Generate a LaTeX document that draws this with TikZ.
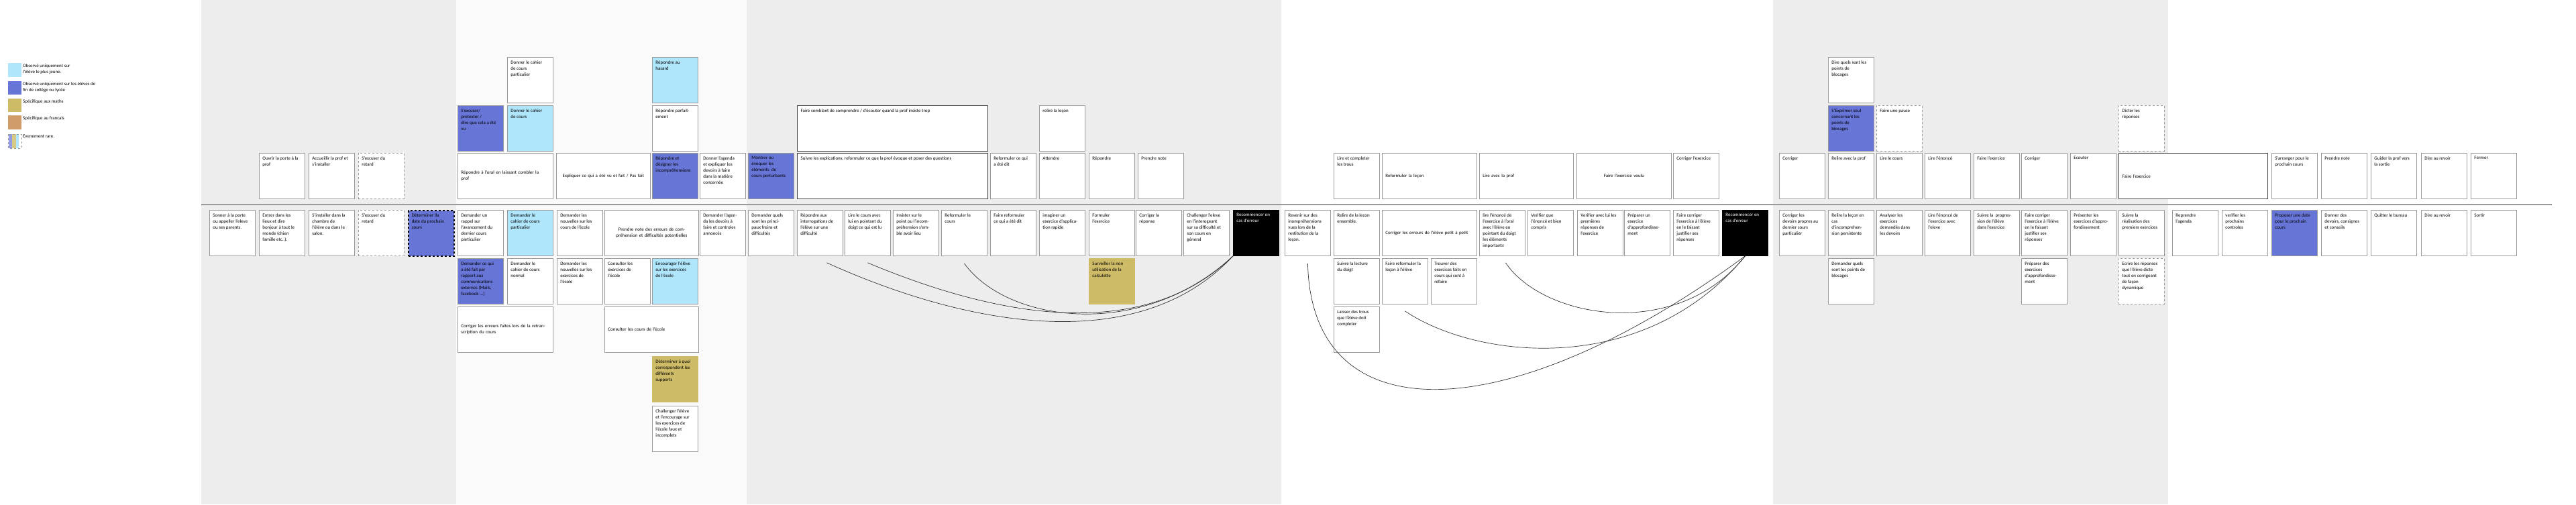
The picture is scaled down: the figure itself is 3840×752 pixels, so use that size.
\documentclass[tikz,border=0pt]{standalone}
\usepackage{fontspec}
\setmainfont{Carlito}
\usepackage{xcolor}
\definecolor{bggray}{HTML}{EDEDED}
\definecolor{bglight}{HTML}{FAFAFA}
\definecolor{edge}{HTML}{9A9A9A}
\definecolor{young}{HTML}{B0E6FB}
\definecolor{older}{HTML}{6775D6}
\definecolor{maths}{HTML}{CDBB68}
\definecolor{french}{HTML}{D09C6A}
\newcommand{\ct}[2][58pt]{\parbox[t][58pt][t]{#1}{\raggedright #2}}

\begin{document}
\begin{tikzpicture}[x=1pt,y=-1pt,
  card/.style={draw=edge, fill=white, anchor=north west, inner sep=5pt, line width=0.8pt, font=\fontsize{7}{9}\selectfont},
  rarecard/.style={card, dashed},
  boldcard/.style={card, draw=black!75, line width=1.3pt},
  wide/.style={card, minimum height=68pt, text width=#1, align=left},
  widec/.style={card, minimum height=68pt, text width=#1, align=center},
  legend/.style={anchor=north west, inner sep=0pt, font=\fontsize{7}{9}\selectfont, align=left},
  link/.style={black!80, line width=0.7pt}]
\useasboundingbox (0,0) rectangle (3840,752);
\fill[bggray] (300,0) rectangle (680,752);
\fill[bglight] (680,0) rectangle (1113,752);
\fill[bggray] (1113,0) rectangle (1910,752);
\fill[bggray] (2643,0) rectangle (3232,752);
\coordinate (sepL) at (300,305);
\coordinate (sepR) at (3804,305);
\draw[edge, line width=1.6pt] (sepL) -- (sepR);

\fill[young] (12,94) rectangle (32,115);
\node[legend] (legA) at (34,95) {Observé uniquement sur\\l'élève le plus jeune.};
\fill[older] (12,121) rectangle (32,141);
\node[legend] (legB) at (34,122) {Observé uniquement sur les élèves de\\fin de collège ou lycée};
\fill[maths] (12,147) rectangle (32,167);
\node[legend] (legC) at (34,148) {Spécifique aux maths};
\fill[french] (12,172) rectangle (32,193);
\node[legend] (legD) at (34,173) {Spécifique au francais};
\fill[older!70] (13,200) rectangle (18,221);
\fill[maths!80] (18,200) rectangle (24,221);
\fill[young] (24,200) rectangle (28,221);
\draw[edge, dashed, line width=0.6pt] (12,200) rectangle (32,221);
\node[legend] (legE) at (34,201) {Evenement rare.};

\node[card] (ouvrir) at (386,228) {\ct{Ouvrir la porte à la\\prof}};
\node[card] (accueil) at (460,228) {\ct{Accueillir la prof et\\s'installer}};
\node[rarecard] (excuseP) at (534,228) {\ct{S'excuser du\\retard}};
\node[card] (sonner) at (312,313) {\ct{Sonner à la porte\\ou appeller l'eleve\\ou ses parents.}};
\node[card] (entrer) at (386,313) {\ct{Entrer dans les\\lieux et dire\\bonjour à tout le\\monde (chien\\famille etc..).}};
\node[card] (installer) at (460,313) {\ct{S'installer dans la\\chambre de\\l'élève ou dans le\\salon.}};
\node[rarecard] (excuseE) at (534,313) {\ct{S'excuser du\\retard}};
\node[card, fill=older, draw=black, dashed, line width=1.5pt] (dateP) at (608,313) {\ct{Déterminer lla\\date du prochain\\cours}};

\node[card] (cahierPart) at (756,85) {\ct{Donner le cahier\\de cours\\particulier}};
\node[card, fill=young] (hasard) at (972,85) {\ct{Répondre au\\hasard}};
\node[card, fill=older] (pretexte) at (682,157) {\ct{S'excuser/\\pretexter /\\dire que cela a été\\vu}};
\node[card, fill=young] (cahier) at (756,157) {\ct{Donner le cahier\\de cours}};
\node[card] (parfait) at (972,157) {\ct{Répondre parfait-\\ement}};
\node[wide=132pt] (oral) at (682,228) {Répondre à l'oral en laissant combler la\\prof};
\node[widec=130pt] (expliquer) at (829,228) {Expliquer ce qui a été vu et fait / Pas fait};
\node[card, fill=older] (designer) at (972,228) {\ct{Répondre et\\désigner les\\incompréhensions}};
\node[card] (agenda) at (1043,228) {\ct{Donner l'agenda\\et expliquer les\\devoirs à faire\\dans la matière\\concernée}};
\node[card, fill=older] (montrer) at (1115,228) {\ct{Montrer ou\\évoquer les\\éléments\ \ de\\cours perturbants}};
\node[card] (rappel) at (682,313) {\ct{Demander un\\rappel sur\\l'avancement du\\dernier cours\\particulier}};
\node[card, fill=young] (demCahierPart) at (756,313) {\ct{Demander le\\cahier de cours\\particulier}};
\node[card] (nouvCours) at (830,313) {\ct{Demander les\\nouvelles sur les\\cours de l'école}};
\node[widec=130pt] (noteErreurs) at (901,313) {Prendre note des erreurs de com-\\préhension et difficultés potentielles};
\node[card] (demAgenda) at (1043,313) {\ct{Demander l'agen-\\da les devoirs à\\faire et controles\\annoncés}};
\node[card] (freins) at (1115,313) {\ct{Demander quels\\sont les princi-\\paux freins et\\difficultés}};
\node[card] (repint) at (1188,313) {\ct{Répondre aux\\interrogations de\\l'élève sur une\\difficulté}};
\node[card] (lireDoigt) at (1259,313) {\ct{Lire le cours avec\\lui en pointant du\\doigt ce qui est lu}};
\node[card] (insister) at (1331,313) {\ct{Insister sur le\\point ou l'incom-\\préhension s'em-\\ble avoir lieu}};
\node[card] (reformCours) at (1403,313) {\ct{Reformuler le\\cours}};
\node[card] (faireReformDit) at (1476,313) {\ct{Faire reformuler\\ce qui a été dit}};
\node[card] (imaginer) at (1549,313) {\ct{imaginer un\\exercice d'applica-\\tion rapide}};
\node[card] (formuler) at (1623,313) {\ct{Formuler\\l'exercice}};
\node[card] (corrRep) at (1693,313) {\ct{Corriger la\\réponse}};
\node[card] (challenger) at (1764,313) {\ct{Challenger l'eleve\\en l'interogeant\\sur sa difficulté et\\son cours en\\géneral}};
\node[card, fill=black, draw=black, text=white] (recomA) at (1838,313) {\ct{Recommencer en\\cas d'erreur}};
\node[card, fill=older] (externes) at (682,385) {\ct{Demander ce qui\\a été fait par\\rapport aux\\communications\\externes (Mails,\\facebook ...)}};
\node[card] (cahierNormal) at (756,385) {\ct{Demander le\\cahier de cours\\normal}};
\node[card] (nouvExos) at (830,385) {\ct{Demander les\\nouvelles sur les\\exercices de\\l'école}};
\node[card] (consExos) at (901,385) {\ct{Consulter les\\exercices de\\l'école}};
\node[card, fill=young] (encourager) at (972,385) {\ct{Encourager l'élève\\sur les exercices\\de l'école}};
\node[card, fill=maths, draw=maths] (calculette) at (1623,385) {\ct{Surveiller la non\\utilisation de la\\calculette}};
\node[wide=132pt] (retrans) at (682,457) {Corriger les erreurs faites lors de la retran-\\scription du cours};
\node[wide=130pt] (consCours) at (901,457) {Consulter les cours de l'école};
\node[card, fill=maths, draw=maths] (supports) at (972,531) {\ct{Déterminer à quoi\\correspondent les\\différents\\supports}};
\node[card] (challExos) at (972,605) {\ct{Challenger l'élève\\et l'encourage sur\\les exercices de\\l'école faux et\\incomplets}};

\node[boldcard] (semblant) at (1188,157) {\ct[274pt]{Faire semblant de comprendre / d'écouter quand la prof insiste trop}};
\node[boldcard] (suivreExpl) at (1188,228) {\ct[274pt]{Suivre les explications, reformuler ce que la prof évoque et poser des questions}};
\node[card] (relireLecon) at (1549,157) {\ct{relire la leçon}};
\node[card] (reformDit) at (1476,228) {\ct{Reformuler ce qui\\a été dit}};
\node[card] (attendre) at (1549,228) {\ct{Attendre}};
\node[card] (repondre) at (1623,228) {\ct{Répondre}};
\node[card] (noteA) at (1696,228) {\ct{Prendre note}};

\node[card] (trous) at (1988,228) {\ct{Lire et completer\\les trous}};
\node[wide=131pt] (reformLecon) at (2060,228) {Reformuler la leçon};
\node[wide=130pt] (lireProf) at (2205,228) {Lire avec la prof};
\node[widec=131pt] (exoVoulu) at (2350,228) {Faire l'exercice voulu};
\node[card] (corrExo) at (2494,228) {\ct{Corriger l'exercice}};
\node[card] (revenir) at (1915,313) {\ct{Revenir sur des\\inompréhensions\\vues lors de la\\restitution de la\\leçon.}};
\node[card] (relireEns) at (1988,313) {\ct{Relire de la lecon\\ensemble.}};
\node[wide=131pt] (petit) at (2060,313) {Corriger les erreurs de l'élève petit à petit};
\node[card] (enonceOral) at (2205,313) {\ct{lire l'énoncé de\\l'exercice à l'oral\\avec l'élève en\\pointant du doigt\\les éléments\\importants}};
\node[card] (verifEnonce) at (2277,313) {\ct{Verifier que\\l'énoncé et bien\\compris}};
\node[card] (verifRep) at (2351,313) {\ct{Verifier avec lui les\\premières\\réponses de\\l'exercice}};
\node[card] (prepA) at (2421,313) {\ct{Préparer un\\exercice\\d'approfondisse-\\ment}};
\node[card] (faireCorrA) at (2494,313) {\ct{Faire corriger\\l'exercice à l'élève\\en le faisant\\justifier ses\\réponses}};
\node[card, fill=black, draw=black, text=white] (recomB) at (2567,313) {\ct{Recommencer en\\cas d'erreur}};
\node[card] (suivreDoigt) at (1988,385) {\ct{Suivre la lecture\\du doigt}};
\node[card] (faireReform) at (2060,385) {\ct{Faire reformuler la\\leçon à l'élève}};
\node[card] (trouver) at (2133,385) {\ct{Trouver des\\exercices faits en\\cours qui sont à\\refaire}};
\node[card] (laisser) at (1988,457) {\ct{Laisser des trous\\que l'élève doit\\completer}};

\node[card] (direBloc) at (2725,85) {\ct{Dire quels sont les\\points de\\blocages}};
\node[card, fill=older] (exprimer) at (2725,157) {\ct{S'Exprimer seul\\concernant les\\points de\\blocages}};
\node[rarecard] (pause) at (2797,157) {\ct{Faire une pause}};
\node[rarecard] (dicter) at (3158,157) {\ct{Dicter les\\réponses}};
\node[card] (corrB) at (2652,228) {\ct{Corriger}};
\node[card] (relireProf) at (2725,228) {\ct{Relire avec la prof}};
\node[card] (lireCoursB) at (2797,228) {\ct{Lire le cours}};
\node[card] (lireEnonce) at (2869,228) {\ct{Lire l'énoncé}};
\node[card] (faireExoA) at (2942,228) {\ct{Faire l'exercice}};
\node[card] (corrC) at (3013,228) {\ct{Corriger}};
\node[card] (ecouter) at (3086,228) {\ct{Ecouter}};
\node[boldcard, minimum height=68pt, text width=212pt, align=left] (faireExoB) at (3158,228) {Faire l'exercice};
\node[card] (devoirs) at (2652,313) {\ct{Corriger les\\devoirs propres au\\dernier cours\\particulier}};
\node[card] (persist) at (2725,313) {\ct{Relire la leçon en\\cas\\d'incomprehen-\\sion persistente}};
\node[card] (analyser) at (2797,313) {\ct{Analyser les\\exercices\\demandés dans\\les devoirs}};
\node[card] (enonceEleve) at (2869,313) {\ct{Lire l'énoncé de\\l'exercice avec\\l'eleve}};
\node[card] (progres) at (2942,313) {\ct{Suivre la\ \ progres-\\sion de l'élève\\dans l'exercice}};
\node[card] (faireCorrB) at (3013,313) {\ct{Faire corriger\\l'exercice à l'élève\\en le faisant\\justifier ses\\réponses}};
\node[card] (presenter) at (3086,313) {\ct{Présenter les\\exercices d'appro-\\fondissement}};
\node[card] (realisation) at (3158,313) {\ct{Suivre la\\réalisation des\\premiers exercices}};
\node[card] (demBloc) at (2725,385) {\ct{Demander quels\\sont les points de\\blocages}};
\node[card] (prepB) at (3013,385) {\ct{Préparer des\\exercices\\d'approfondisse-\\ment}};
\node[rarecard] (ecrire) at (3158,385) {\ct{Ecrire les réponses\\que l'élève dicte\\tout en corrigeant\\de façon\\dynamique}};

\node[card] (reprendre) at (3238,313) {\ct{Reprendre\\l'agenda}};
\node[card] (controles) at (3312,313) {\ct{verifier les\\prochains\\controles}};
\node[card, fill=older] (proposer) at (3386,313) {\ct{Proposer une date\\pour le prochain\\cours}};
\node[card] (donnerDev) at (3460,313) {\ct{Donner des\\devoirs, consignes\\et conseils}};
\node[card] (quitter) at (3534,313) {\ct{Quitter le bureau}};
\node[card] (revoirP) at (3609,313) {\ct{Dire au revoir}};
\node[card] (sortir) at (3683,313) {\ct{Sortir}};
\node[card] (arranger) at (3386,228) {\ct{S'arranger pour le\\prochain cours}};
\node[card] (noteB) at (3460,228) {\ct{Prendre note}};
\node[card] (guider) at (3534,228) {\ct{Guider la prof vers\\la sortie}};
\node[card] (revoirE) at (3609,228) {\ct{Dire au revoir}};
\node[card] (fermer) at (3683,228) {\ct{Fermer}};

\draw[link] ([xshift=10pt,yshift=-10pt]repint.south) .. controls (1450,490) and (1700,530) .. (recomA.south west);
\draw[link] ([yshift=-10pt]lireDoigt.south) .. controls (1480,470) and (1700,515) .. (recomA.south west);
\draw[link] ([yshift=-11pt]reformCours.south) .. controls (1500,480) and (1700,510) .. (recomA.south west);
\draw[link] ([yshift=-11pt]revenir.south) .. controls (1955,650) and (2250,640) .. (recomB.south);
\draw[link] ([yshift=-10pt]faireReform.south) .. controls (2200,535) and (2450,565) .. (recomB.south);
\draw[link] ([xshift=5pt,yshift=-10pt]enonceOral.south) .. controls (2300,475) and (2500,510) .. (recomB.south);
\end{tikzpicture}
\end{document}
